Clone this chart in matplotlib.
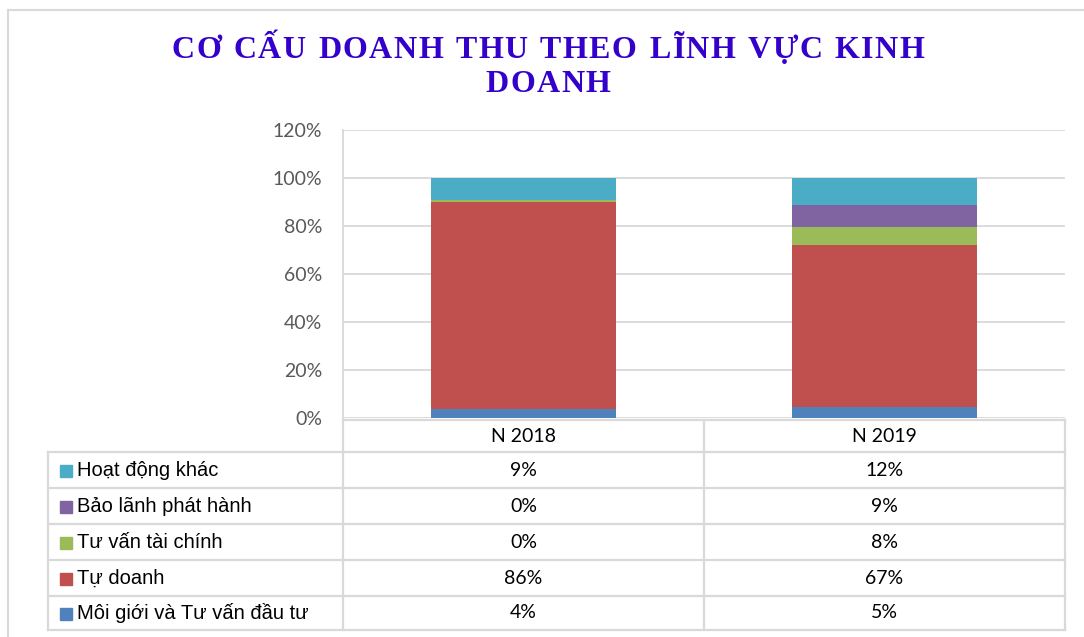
import numpy as np
import matplotlib
matplotlib.use("Agg")
import matplotlib.pyplot as plt
from matplotlib.patches import Rectangle
from matplotlib.lines import Line2D

years = ["N 2018", "N 2019"]
# bottom -> top of the stack
segments = ["Môi giới và Tư vấn đầu tư", "Tự doanh", "Tư vấn tài chính",
            "Bảo lãnh phát hành", "Hoạt động khác"]
moi_gioi = [0.038, 0.047]
tu_doanh = [0.862, 0.674]
tu_van = [0.007, 0.076]
bao_lanh = [0.0, 0.090]
hoat_dong_khac = [0.093, 0.113]
# labels shown in the data table (top row first)
table_text = {
    "Hoạt động khác": ["9%", "12%"],
    "Bảo lãnh phát hành": ["0%", "9%"],
    "Tư vấn tài chính": ["0%", "8%"],
    "Tự doanh": ["86%", "67%"],
    "Môi giới và Tư vấn đầu tư": ["4%", "5%"],
}
title_lines = ["CƠ CẤU DOANH THU THEO LĨNH VỰC KINH", "DOANH"]
colors = ["#4F81BD", "#C0504D", "#9BBB59", "#8064A2", "#4BACC6"]
yticks = np.arange(0, 1.21, 0.2)

plt.rcParams["font.family"] = ["Lato", "DejaVu Sans"]

W, H = 1084, 637
fig = plt.figure(figsize=(W / 100, H / 100), dpi=100)
grid_col = "#D9D9D9"


def fx(px):
    return px / W


def fy(py):
    return 1 - py / H


# outer chart frame
fig.add_artist(Line2D([fx(8), fx(8)], [fy(10), fy(637)], color=grid_col, lw=1.5))
fig.add_artist(Line2D([fx(8), fx(1084)], [fy(10), fy(10)], color=grid_col, lw=1.5))

# title with letter spacing, drawn char by char
renderer = fig.canvas.get_renderer()
title_kw = dict(va="baseline", ha="left", family="Liberation Serif", weight="bold",
                fontsize=23, color="#3300CC")
spacing = 1.4  # px between letters


def spaced_text(line, cx, baseline):
    widths = []
    for ch in line:
        t = fig.text(0, 0, ch if ch != " " else "n", **title_kw)
        w = t.get_window_extent(renderer).width
        t.remove()
        widths.append(w * (0.55 if ch == " " else 1.0))
    total = sum(widths) + spacing * (len(line) - 1)
    xpos = cx - total / 2
    for ch, w in zip(line, widths):
        if ch != " ":
            fig.text(fx(xpos), fy(baseline), ch, **title_kw)
        xpos += w + spacing


spaced_text(title_lines[0], 548, 58)
spaced_text(title_lines[1], 548, 92)

# plot area
left, right, top, bottom = 343, 1065, 130, 418
ax = fig.add_axes([fx(left), fy(bottom), fx(right - left), (bottom - top) / H])
x = np.arange(len(years))
series = [moi_gioi, tu_doanh, tu_van, bao_lanh, hoat_dong_khac]
base = np.zeros(len(years))
for vals, c in zip(series, colors):
    ax.bar(x, vals, width=0.512, bottom=base, color=c, zorder=3)
    base += np.array(vals)
ax.set_xlim(-0.5, len(years) - 0.5)
ax.set_ylim(0, 1.2)
ax.set_yticks(yticks)
ax.set_yticklabels([f"{int(round(t * 100))}%" for t in yticks])
ax.tick_params(axis="y", length=0, pad=15, labelsize=14, labelcolor="#595959")
ax.tick_params(axis="x", length=0, labelbottom=False)
ax.grid(axis="y", color=grid_col, lw=1.3, zorder=0)
for s in ["top", "right", "bottom"]:
    ax.spines[s].set_visible(False)
ax.spines["left"].set_color(grid_col)
ax.spines["left"].set_linewidth(1.3)

# data table below the plot
tax = fig.add_axes([0, 0, 1, 1])
tax.set_xlim(0, W)
tax.set_ylim(H, 0)
tax.axis("off")
col_x = [48, 343, 704, 1065]
row_y = [420, 452, 488, 524, 560, 596, 630]
lc = dict(color=grid_col, lw=1.6)
# header row (no label cell)
tax.plot([col_x[1], col_x[3]], [row_y[0], row_y[0]], **lc)
for cx in col_x[1:]:
    tax.plot([cx, cx], [row_y[0], row_y[-1]], **lc)
tax.plot([col_x[0], col_x[0]], [row_y[1], row_y[-1]], **lc)
for ry in row_y[1:]:
    tax.plot([col_x[0], col_x[3]], [ry, ry], **lc)
for j, yr in enumerate(years):
    tax.text((col_x[j + 1] + col_x[j + 2]) / 2, (row_y[0] + row_y[1]) / 2, yr,
             ha="center", va="center", fontsize=14, color="#000000")
for i, (name, vals) in enumerate(table_text.items()):
    yc = (row_y[i + 1] + row_y[i + 2]) / 2
    c = colors[segments.index(name)]
    tax.add_patch(Rectangle((60, yc - 5), 12, 12, color=c))
    tax.text(77, yc, name, ha="left", va="center", fontsize=14.5, color="#000000",
             family=["Liberation Sans", "DejaVu Sans"])
    for j, v in enumerate(vals):
        tax.text((col_x[j + 1] + col_x[j + 2]) / 2, yc, v, ha="center", va="center",
                 fontsize=14, color="#000000")

fig.savefig("out.png", dpi=100)
